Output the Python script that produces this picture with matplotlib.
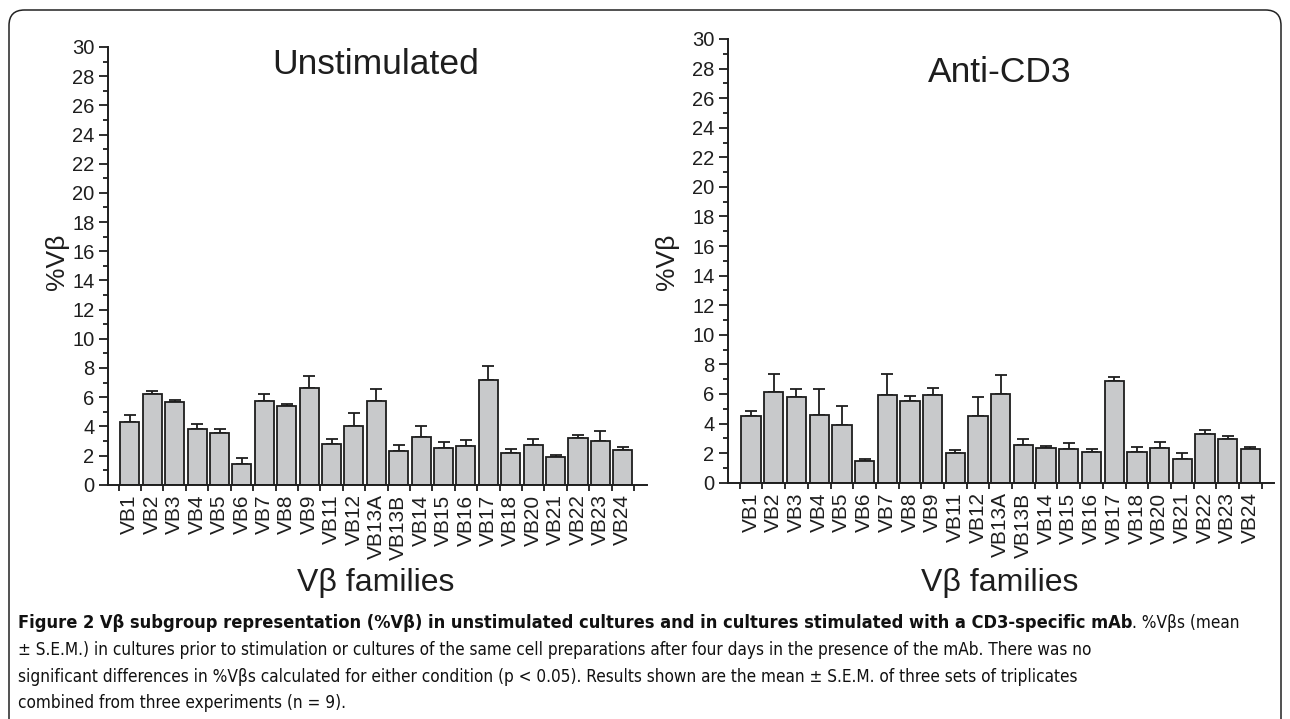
import numpy as np
import matplotlib
matplotlib.use("Agg")
from matplotlib import pyplot as plt
from matplotlib import font_manager
from matplotlib.patches import FancyBboxPatch
from matplotlib.ticker import MultipleLocator

families = ["VB1", "VB2", "VB3", "VB4", "VB5", "VB6", "VB7", "VB8", "VB9", "VB11",
            "VB12", "VB13A", "VB13B", "VB14", "VB15", "VB16", "VB17", "VB18",
            "VB20", "VB21", "VB22", "VB23", "VB24"]

# unstimulated: mean and S.E.M.
unstim = [4.3, 6.2, 5.65, 3.85, 3.55, 1.42, 5.72, 5.4, 6.65, 2.78, 4.05, 5.72,
          2.3, 3.25, 2.5, 2.63, 7.15, 2.2, 2.7, 1.9, 3.2, 2.97, 2.37]
unstim_err = [0.45, 0.22, 0.14, 0.28, 0.3, 0.42, 0.52, 0.14, 0.77, 0.33, 0.88, 0.86,
              0.44, 0.75, 0.4, 0.42, 1.0, 0.23, 0.46, 0.12, 0.23, 0.68, 0.21]

# anti-CD3
cd3 = [4.5, 6.12, 5.8, 4.55, 3.93, 1.48, 5.9, 5.55, 5.9, 1.98, 4.5, 6.0,
       2.57, 2.32, 2.3, 2.07, 6.88, 2.08, 2.36, 1.57, 3.3, 2.93, 2.25]
cd3_err = [0.32, 1.25, 0.54, 1.77, 1.28, 0.13, 1.43, 0.31, 0.48, 0.2, 1.32, 1.28,
           0.36, 0.13, 0.36, 0.2, 0.24, 0.36, 0.37, 0.43, 0.25, 0.23, 0.14]

W, H = 1290, 719
fig = plt.figure(figsize=(W / 100, H / 100), dpi=100)
font = "Liberation Sans"

# condensed font for the caption if installed, else Roboto
cap_font = "Roboto"
cap_stretch = "normal"
try:
    fp = font_manager.FontProperties(family="DejaVu Sans", stretch="condensed")
    if "Condensed" in font_manager.findfont(fp, fallback_to_default=False):
        cap_font, cap_stretch = "DejaVu Sans", "condensed"
except Exception:
    pass

# outer rounded frame
frame = FancyBboxPatch((9 / W, -0.05), 1272 / W, 1.05 - 10 / H,
                       boxstyle="round,pad=0,rounding_size=0.012",
                       transform=fig.transFigure, fill=False,
                       edgecolor="#222222", linewidth=1.1, mutation_aspect=W / H)
fig.patches.append(frame)


def panel(rect, vals, errs, xlim, title, title_xy, ylab_x):
    ax = fig.add_axes(rect)
    x = np.arange(len(families))
    ax.bar(x, vals, width=0.85, color="#c8c9cb", edgecolor="#1e1e1e",
           linewidth=1.3, zorder=2)
    ax.errorbar(x, vals, yerr=[np.zeros(len(vals)), errs], fmt="none",
                ecolor="#1e1e1e", elinewidth=1.3, capsize=4, capthick=1.3, zorder=1)
    ax.set_ylim(0, 30)
    ax.set_xlim(*xlim)
    for s in ["top", "right"]:
        ax.spines[s].set_visible(False)
    for s in ["left", "bottom"]:
        ax.spines[s].set_linewidth(1.4)
        ax.spines[s].set_color("#1e1e1e")
    ax.yaxis.set_major_locator(MultipleLocator(2))
    ax.yaxis.set_minor_locator(MultipleLocator(1))
    ax.tick_params(axis="y", which="major", direction="out", length=6.5, width=1.3,
                   labelsize=14.5, pad=3, colors="#1e1e1e")
    ax.tick_params(axis="y", which="minor", direction="out", length=3.5, width=1.3,
                   colors="#1e1e1e")
    # boundary ticks without labels, labels centred under bars
    ax.set_xticks(list(x - 0.5) + [len(x) - 0.5], minor=True)
    ax.set_xticks(x)
    ax.set_xticklabels(families, rotation=90, fontsize=15, fontfamily=font,
                       color="#1e1e1e")
    ax.tick_params(axis="x", which="major", length=0, pad=7)
    ax.tick_params(axis="x", which="minor", direction="out", length=4.5, width=1.3,
                   colors="#1e1e1e")
    for lab in ax.get_yticklabels():
        lab.set_fontfamily(font)
    fig.text(title_xy[0] / W, 1 - title_xy[1] / H, title, fontsize=25.5,
             fontfamily=font, ha="center", va="center", color="#1e1e1e")
    fig.text(title_xy[0] / W, 1 - 583 / H, "Vβ families", fontsize=23,
             fontfamily=font, ha="center", va="center", color="#1e1e1e")
    fig.text(ylab_x / W, 1 - 262 / H, "%Vβ", rotation=90, fontsize=19,
             fontfamily=font, ha="center", va="center", color="#1e1e1e")
    return ax


ax1 = panel([107.7 / W, 1 - 484.7 / H, 539.3 / W, 437.7 / H], unstim, unstim_err,
            (-0.99, 23.08), "Unstimulated", (376, 65), 57)
ax2 = panel([727.7 / W, 1 - 482.7 / H, 546.3 / W, 443.7 / H], cd3, cd3_err,
            (-1.03, 23.04), "Anti-CD3", (1000, 72), 667)

# caption
bold_txt = ("Figure 2 Vβ subgroup representation (%Vβ) in unstimulated cultures "
            "and in cultures stimulated with a CD3-specific mAb")
lines = [
    "± S.E.M.) in cultures prior to stimulation or cultures of the same cell "
    "preparations after four days in the presence of the mAb. There was no",
    "significant differences in %Vβs calculated for either condition (p < 0.05). "
    "Results shown are the mean ± S.E.M. of three sets of triplicates",
    "combined from three experiments (n = 9).",
]
# size the caption so that its lines span as in the reference
probe = fig.text(0, 0, lines[0], fontsize=10, fontfamily=cap_font,
                 fontstretch=cap_stretch)
probe_b = fig.text(0, 0, bold_txt, fontsize=10, fontfamily=cap_font,
                   fontstretch=cap_stretch, fontweight="bold")
fig.canvas.draw()
cap_size = 10 * (1097 - 18) / probe.get_window_extent().width
bold_size = min(10 * (1128 - 18) / probe_b.get_window_extent().width, cap_size * 1.08)
probe.remove()
probe_b.remove()

bold = fig.text(18 / W, 1 - 623 / H, bold_txt, fontsize=bold_size,
                fontweight="bold", fontfamily=cap_font, fontstretch=cap_stretch,
                ha="left", va="center", color="#111111")
fig.canvas.draw()
bb = bold.get_window_extent()
fig.text(bb.x1 / W, 1 - 623 / H, ". %Vβs (mean", fontsize=cap_size,
         fontfamily=cap_font, fontstretch=cap_stretch,
         ha="left", va="center", color="#111111")
for i, t in enumerate(lines):
    fig.text(18 / W, 1 - (650 + 26.7 * i) / H, t, fontsize=cap_size,
             fontfamily=cap_font, fontstretch=cap_stretch,
             ha="left", va="center", color="#111111")

fig.savefig("out.png", dpi=100)
